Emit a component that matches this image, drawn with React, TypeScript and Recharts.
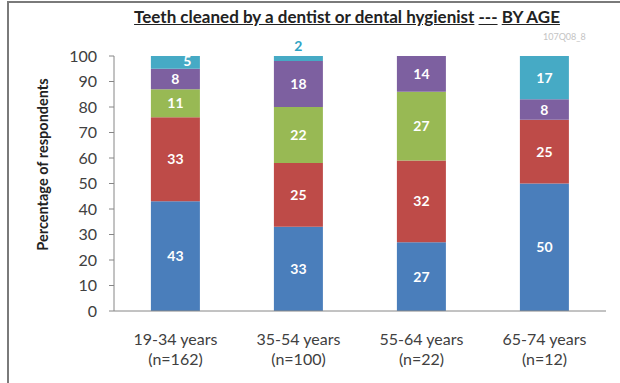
import { BarChart, Bar, XAxis, YAxis, LabelList } from 'recharts'

const ageGroups = ['19-34 years', '35-54 years', '55-64 years', '65-74 years']
const sampleSizes = ['(n=162)', '(n=100)', '(n=22)', '(n=12)']
const seg1 = [43, 33, 27, 50]
const seg2 = [33, 25, 32, 25]
const seg3 = [11, 22, 27, 0]
const seg4 = [8, 18, 14, 8]
const seg5 = [5, 2, 0, 17]
const yTicks = [0, 10, 20, 30, 40, 50, 60, 70, 80, 90, 100]

const data = ageGroups.map((g, i) => ({
  group: g,
  n: sampleSizes[i],
  s1: seg1[i],
  s2: seg2[i],
  s3: seg3[i],
  s4: seg4[i],
  s5: seg5[i],
}))

const FONT = 'Lato, "Open Sans", sans-serif'
const colors = ['#4A7EBB', '#BE4B48', '#98B954', '#7D60A0', '#46AAC5']

function segLabel(props: any) {
  const { x, y, width, height, value } = props
  if (!value) return null
  const cx = x + width / 2
  if (value <= 2) {
    return (
      <text x={cx} y={y - 5} textAnchor="middle" fill="#2FA3C4" fontSize={14} fontWeight={700} fontFamily={FONT}>
        {value}
      </text>
    )
  }
  if (height < 18) {
    return (
      <text x={cx + 12} y={y + 10} textAnchor="middle" fill="#fff" fontSize={14} fontWeight={700} fontFamily={FONT}>
        {value}
      </text>
    )
  }
  return (
    <text x={cx} y={y + height / 2 + 5} textAnchor="middle" fill="#fff" fontSize={14} fontWeight={700} fontFamily={FONT}>
      {value}
    </text>
  )
}

function XTick(props: any) {
  const { x, y, payload, index } = props
  return (
    <text x={x} textAnchor="middle" fill="#404040" fontSize={16} fontFamily={FONT}>
      <tspan x={x} y={y + 26}>{payload.value}</tspan>
      <tspan x={x} y={y + 46}>{sampleSizes[index]}</tspan>
    </text>
  )
}

export default function App() {
  const keys = ['s1', 's2', 's3', 's4', 's5']
  return (
    <div style={{ position: 'absolute', left: 0, top: 0, width: 620, height: 383, background: '#fff', overflow: 'hidden' }}>
      <div
        style={{
          position: 'absolute',
          left: 7,
          top: 1,
          width: 620,
          height: 384,
          borderLeft: '2px solid #7a7a7a',
          borderTop: '2px solid #7a7a7a',
        }}
      />
      <div
        style={{
          position: 'absolute',
          left: 0,
          top: 6,
          width: 694,
          textAlign: 'center',
          fontFamily: FONT,
          fontWeight: 700,
          fontSize: 17,
          color: '#222',
        }}
      >
        <span style={{ textDecoration: 'underline' }}>Teeth cleaned by a dentist or dental hygienist</span>{' '}
        <span style={{ textDecoration: 'underline' }}>---</span>{' '}
        <span style={{ textDecoration: 'underline' }}>BY AGE</span>
      </div>
      <div
        style={{
          position: 'absolute',
          left: 543,
          top: 31,
          fontFamily: FONT,
          fontSize: 9,
          color: '#c4c4c4',
        }}
      >
        107Q08_8
      </div>
      <div style={{ position: 'absolute', left: 10, top: 3 }}>
        <BarChart
          width={610}
          height={380}
          data={data}
          margin={{ top: 53, right: 14, left: 0, bottom: 12 }}
          barCategoryGap="30%"
        >
          <XAxis
            dataKey="group"
            tickLine={false}
            axisLine={{ stroke: '#868686' }}
            height={60}
            tick={<XTick />}
            interval={0}
          />
          <YAxis
            domain={[0, 100]}
            ticks={yTicks}
            width={104}
            tickSize={5}
            tickMargin={12}
            axisLine={{ stroke: '#868686' }}
            tickLine={{ stroke: '#868686' }}
            tick={{ fill: '#404040', fontSize: 16, fontFamily: FONT }}
            label={{
              value: 'Percentage of respondents',
              angle: -90,
              position: 'insideLeft',
              dx: 28,
              dy: -19,
              style: { textAnchor: 'middle', fill: '#222', fontSize: 14.5, fontWeight: 700, fontFamily: FONT },
            }}
          />
          {keys.map((k, i) => (
            <Bar key={k} dataKey={k} stackId="a" fill={colors[i]} isAnimationActive={false}>
              <LabelList dataKey={k} content={segLabel} />
            </Bar>
          ))}
        </BarChart>
      </div>
    </div>
  )
}
